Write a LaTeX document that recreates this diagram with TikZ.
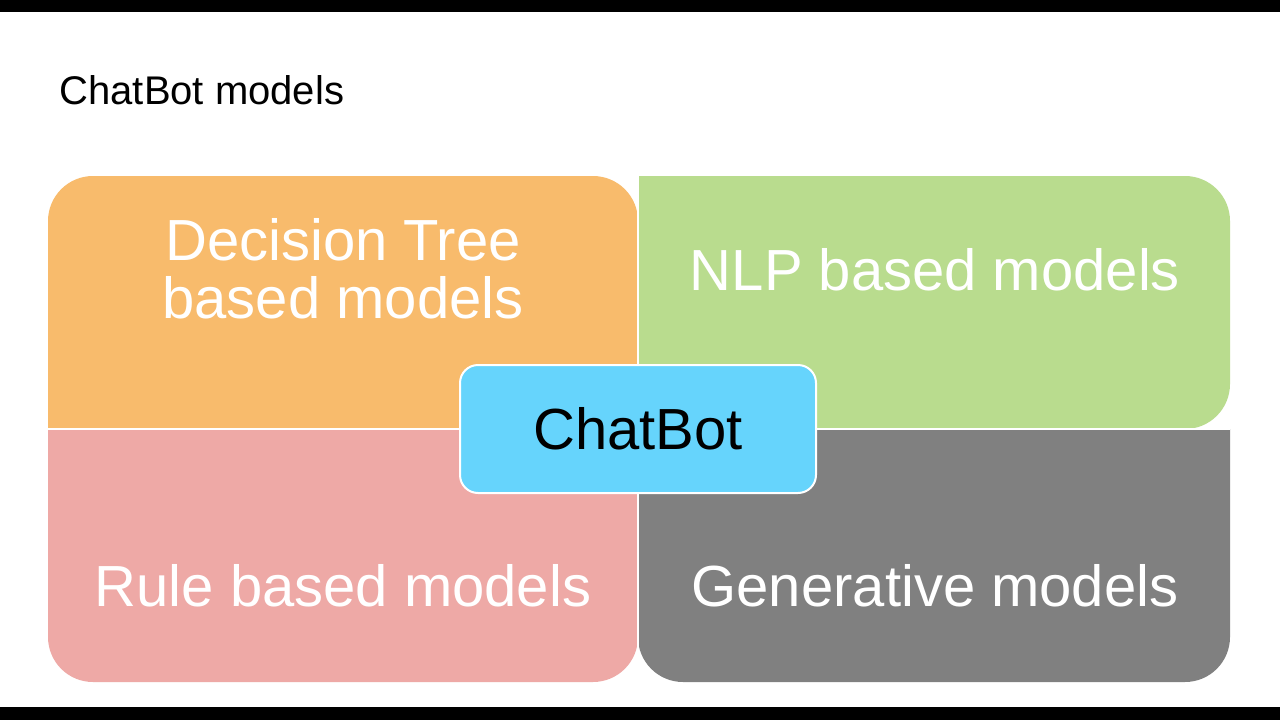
\documentclass[tikz,border=0pt]{standalone}
\usepackage{fontspec}
\setmainfont{Liberation Sans}
\definecolor{treeorange}{HTML}{F8BB6C}
\definecolor{nlpgreen}{HTML}{B9DC8E}
\definecolor{rulepink}{HTML}{EEA9A6}
\definecolor{gengray}{HTML}{808080}
\definecolor{botblue}{HTML}{66D4FC}
\tikzset{
  quad/.style = {draw=white, line width=1.5pt},
  quadtext/.style = {text=white, font=\fontsize{58}{60}\selectfont, align=center},
  bot/.style = {draw=white, line width=2pt, fill=botblue, rounded corners=18pt,
    minimum width=356pt, minimum height=128pt, font=\fontsize{58}{60}\selectfont}
}
\begin{document}
\begin{tikzpicture}[x=1pt, y=-1pt]
  % page and bars
  \useasboundingbox (0,0) rectangle (1280,720);
  \fill[white] (0,0) rectangle (1280,720);
  \fill[black] (0,0) rectangle (1280,12);
  \fill[black] (0,707) rectangle (1280,720);

  \node[anchor=west, font=\fontsize{40}{42}\selectfont] (title) at (56,90) {ChatBot models};

  % the four quadrants, outer corners rounded
  \coordinate (NW) at (48,176);
  \coordinate (SE) at (1230,682);
  \coordinate (M) at (638,429);

  \fill[treeorange] (638,429) -- (48,429) [rounded corners=45pt] -- (48,176) -- (638,176) [sharp corners] -- cycle;
  \fill[nlpgreen] (638,429) -- (638,176) [rounded corners=45pt] -- (1230,176) -- (1230,429) [sharp corners] -- cycle;
  \fill[rulepink] (638,429) -- (48,429) [rounded corners=45pt] -- (48,682) -- (638,682) [sharp corners] -- cycle;
  \fill[gengray] (638,429) -- (1230,429) [rounded corners=45pt] -- (1230,682) -- (638,682) [sharp corners] -- cycle;
  \draw[quad] (638,176) -- (638,682);
  \draw[quad] (48,429) -- (1230,429);

  \node[quadtext] (tree) at (343,269) {Decision Tree\\[-2pt]based models};
  \node[quadtext] (nlp) at (935,270) {NLP based models};
  \node[quadtext] (rule) at (343,586) {Rule based models};
  \node[quadtext] (gen) at (935,586) {Generative models};

  \node[bot] (chatbot) at (M) {ChatBot};
\end{tikzpicture}
\end{document}
